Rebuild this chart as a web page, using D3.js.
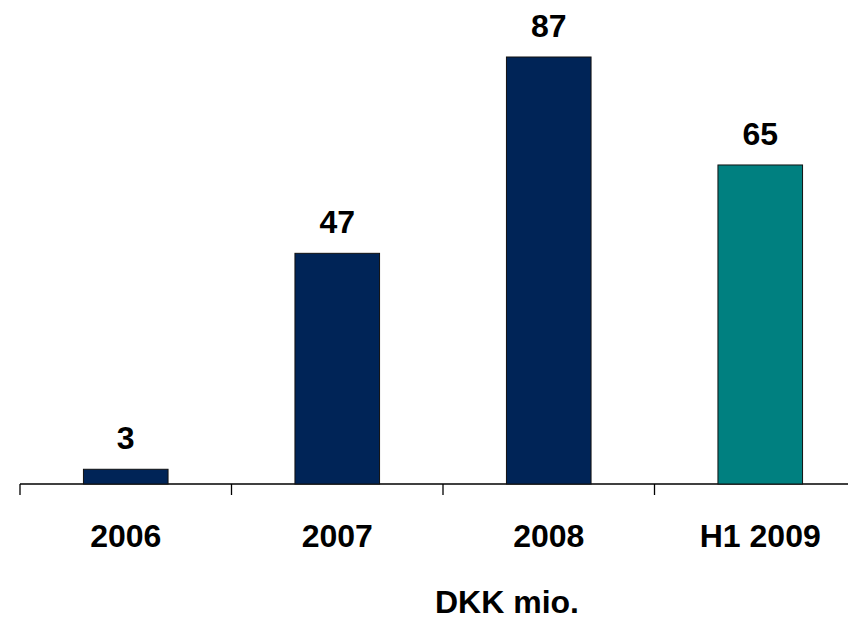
<!DOCTYPE html>
<html>
<head>
<meta charset="utf-8">
<script src="https://cdn.jsdelivr.net/npm/d3@7"></script>
<style>
  body { margin: 0; background: #fff; }
  text { font-family: "Liberation Sans", Arial, sans-serif; font-weight: bold; fill: #000; }
</style>
</head>
<body>
<div id="chart"></div>
<script>
// Data
var categories = ['2006', '2007', '2008', 'H1 2009']
var values = [3, 47, 87, 65]
var barColors = ['#002457', '#002457', '#002457', '#008080']
var unitLabel = 'DKK mio.'

// Dimensions
var width = 848
var height = 619
var baseline = 484
var left = 20

var svg = d3.select('#chart').append('svg')
  .attr('width', width)
  .attr('height', height)

var x = d3.scaleBand()
  .domain(categories)
  .range([left, left + 4 * 211.5])
  .paddingInner(0.6)
  .paddingOuter(0.3)

var y = d3.scaleLinear()
  .domain([0, 87])
  .range([baseline, 57])

// Axis line + ticks
svg.append('line')
  .attr('x1', left).attr('x2', width)
  .attr('y1', baseline).attr('y2', baseline)
  .attr('stroke', '#000').attr('stroke-width', 1.3)

var step = x.step()
svg.selectAll('.tick')
  .data(d3.range(categories.length + 1))
  .enter().append('line')
  .attr('class', 'tick')
  .attr('x1', function (d) { return left + d * step })
  .attr('x2', function (d) { return left + d * step })
  .attr('y1', baseline)
  .attr('y2', baseline + 11)
  .attr('stroke', '#000').attr('stroke-width', 1.3)

// Bars
svg.selectAll('.bar')
  .data(values)
  .enter().append('rect')
  .attr('class', 'bar')
  .attr('x', function (d, i) { return x(categories[i]) })
  .attr('y', function (d) { return y(d) })
  .attr('width', x.bandwidth())
  .attr('height', function (d) { return baseline - y(d) })
  .attr('fill', function (d, i) { return barColors[i] })
  .attr('stroke', '#111')
  .attr('stroke-width', 1)

// Value labels
svg.selectAll('.val')
  .data(values)
  .enter().append('text')
  .attr('class', 'val')
  .attr('x', function (d, i) { return x(categories[i]) + x.bandwidth() / 2 })
  .attr('y', function (d) { return y(d) - 20 })
  .attr('text-anchor', 'middle')
  .style('font-size', '32px')
  .text(function (d) { return d })

// Category labels
svg.selectAll('.cat')
  .data(categories)
  .enter().append('text')
  .attr('class', 'cat')
  .attr('x', function (d) { return x(d) + x.bandwidth() / 2 })
  .attr('y', 547)
  .attr('text-anchor', 'middle')
  .style('font-size', '32px')
  .text(function (d) { return d })

svg.append('text')
  .attr('x', 507)
  .attr('y', 613)
  .attr('text-anchor', 'middle')
  .style('font-size', '32px')
  .text(unitLabel)
</script>
</body>
</html>
